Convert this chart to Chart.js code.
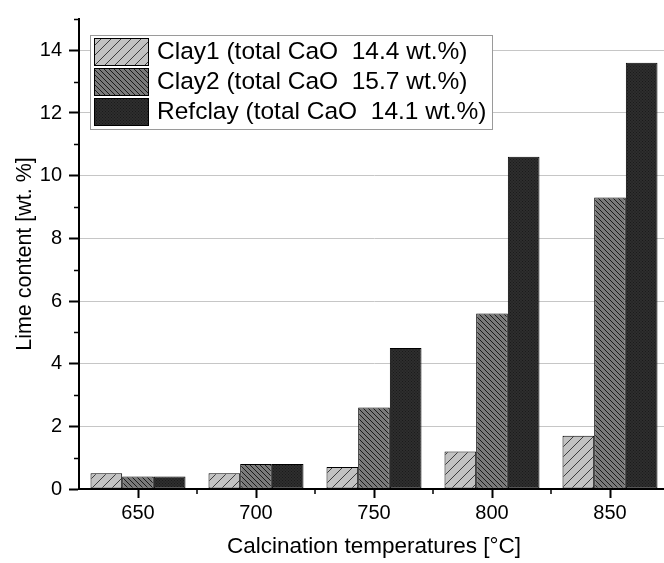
<!DOCTYPE html>
<html>
<head>
<meta charset="utf-8">
<script src="https://cdn.jsdelivr.net/npm/chart.js@4/dist/chart.umd.min.js"></script>
<style>
html, body { margin:0; padding:0; background:#fff; overflow:hidden; width:664px; height:563px; }
canvas { display:block; }
</style>
</head>
<body>
<canvas id="c" width="670" height="563"></canvas>
<script>
// ---- data ----
const categories = ['650', '700', '750', '800', '850'];
const clay1 = [0.5, 0.5, 0.7, 1.2, 1.7];
const clay2 = [0.4, 0.8, 2.6, 5.6, 9.3];
const refclay = [0.4, 0.8, 4.5, 10.6, 13.6];
const seriesLabels = [
  'Clay1 (total CaO  14.4 wt.%)',
  'Clay2 (total CaO  15.7 wt.%)',
  'Refclay (total CaO  14.1 wt.%)'
];
const yTickValues = [0, 2, 4, 6, 8, 10, 12, 14];

const FONT = '"Liberation Sans", Arial, sans-serif';

function hatch(bg, line, s, dir, lw) {
  const c = document.createElement('canvas');
  c.width = s; c.height = s;
  const g = c.getContext('2d');
  g.fillStyle = bg; g.fillRect(0, 0, s, s);
  g.strokeStyle = line; g.lineWidth = lw;
  g.beginPath();
  if (dir === '/') {
    g.moveTo(-1, s + 1); g.lineTo(s + 1, -1);
    g.moveTo(-1, 1); g.lineTo(1, -1);
    g.moveTo(s - 1, s + 1); g.lineTo(s + 1, s - 1);
  } else {
    g.moveTo(-1, -1); g.lineTo(s + 1, s + 1);
    g.moveTo(s - 1, -1); g.lineTo(s + 1, 1);
    g.moveTo(-1, s - 1); g.lineTo(1, s + 1);
  }
  g.stroke();
  return g.createPattern(c, 'repeat');
}
function dots(bg, dot) {
  const c = document.createElement('canvas');
  c.width = 3; c.height = 3;
  const g = c.getContext('2d');
  g.fillStyle = bg; g.fillRect(0, 0, 3, 3);
  g.fillStyle = dot; g.fillRect(0, 0, 1, 1); g.fillRect(1.5, 1.5, 1, 1);
  return g.createPattern(c, 'repeat');
}
const fills = [
  hatch('#c2c2c2', '#3c3c3c', 10, '/', 1),
  hatch('#7a7a7a', '#1a1a1a', 5, '\\', 1),
  dots('#2e2e2e', '#1a1a1a')
];

const minorTicks = {
  id: 'minorTicks',
  afterDraw(chart) {
    const ctx = chart.ctx;
    const x = chart.scales.x, y = chart.scales.y;
    ctx.save();
    ctx.strokeStyle = '#000';
    ctx.lineWidth = 1.5;
    ctx.beginPath();
    for (let v = 1; v <= 15; v += 2) {
      const py = Math.round(y.getPixelForValue(v)) + 0.5;
      ctx.moveTo(y.right, py); ctx.lineTo(y.right - 5, py);
    }
    for (let i = 0; i < categories.length - 1; i++) {
      const px = (x.getPixelForValue(i) + x.getPixelForValue(i + 1)) / 2;
      ctx.moveTo(px, x.top); ctx.lineTo(px, x.top + 5);
    }
    ctx.stroke();
    ctx.restore();
  }
};

const boxLegend = {
  id: 'boxLegend',
  afterDraw(chart) {
    const ctx = chart.ctx;
    const a = chart.chartArea;
    const left = a.left + 11, top = a.top + 16, w = 402, h = 94;
    ctx.save();
    ctx.fillStyle = '#fff';
    ctx.fillRect(left, top, w, h);
    ctx.strokeStyle = '#9a9a9a';
    ctx.lineWidth = 1;
    ctx.strokeRect(left + 0.5, top + 0.5, w, h);
    ctx.font = '24.5px ' + FONT;
    ctx.textBaseline = 'middle';
    chart.data.datasets.forEach((ds, i) => {
      const py = top + 3 + i * 30;
      ctx.fillStyle = ds.backgroundColor;
      ctx.fillRect(left + 4, py, 54, 27);
      ctx.strokeStyle = '#000';
      ctx.strokeRect(left + 4.5, py + 0.5, 54, 27);
      ctx.fillStyle = '#000';
      ctx.fillText(ds.label, left + 67, py + 14);
    });
    ctx.restore();
  }
};

new Chart(document.getElementById('c'), {
  type: 'bar',
  data: {
    labels: categories,
    datasets: [clay1, clay2, refclay].map((d, i) => ({
      label: seriesLabels[i],
      data: d,
      backgroundColor: fills[i],
      borderColor: '#000',
      borderWidth: 1,
      borderSkipped: false,
      categoryPercentage: 0.805,
      barPercentage: 1
    }))
  },
  options: {
    responsive: false,
    animation: false,
    layout: { padding: { top: 13, right: 1, left: 0, bottom: 0 } },
    plugins: { legend: { display: false }, tooltip: { enabled: false } },
    scales: {
      x: {
        afterFit(s) { s.height = 74; },
        grid: { offset: false, drawOnChartArea: false, drawTicks: true, tickLength: 9, tickColor: '#000', tickWidth: 2 },
        border: { color: '#000', width: 2 },
        ticks: { color: '#000', font: { family: FONT, size: 20 }, padding: 3, maxRotation: 0 },
        title: { display: true, text: 'Calcination temperatures [°C]', color: '#000', font: { family: FONT, size: 22.5 }, padding: { top: 0, bottom: 3 } }
      },
      y: {
        min: 0, max: 15,
        afterFit(s) { s.width = 79; },
        afterBuildTicks(s) { s.ticks = yTickValues.map(v => ({ value: v })); },
        grid: {
          color: (c) => (c.tick && c.tick.value > 0) ? '#c6c6c6' : 'rgba(0,0,0,0)',
          lineWidth: 1,
          tickLength: 10, tickColor: '#000', tickWidth: 2
        },
        border: { color: '#000', width: 2 },
        ticks: { color: '#000', font: { family: FONT, size: 20 }, padding: 7 },
        title: { display: true, text: 'Lime content [wt. %]', color: '#000', font: { family: FONT, size: 21.5 }, padding: { top: 12, bottom: 0 } }
      }
    }
  },
  plugins: [minorTicks, boxLegend]
});
</script>
</body>
</html>
